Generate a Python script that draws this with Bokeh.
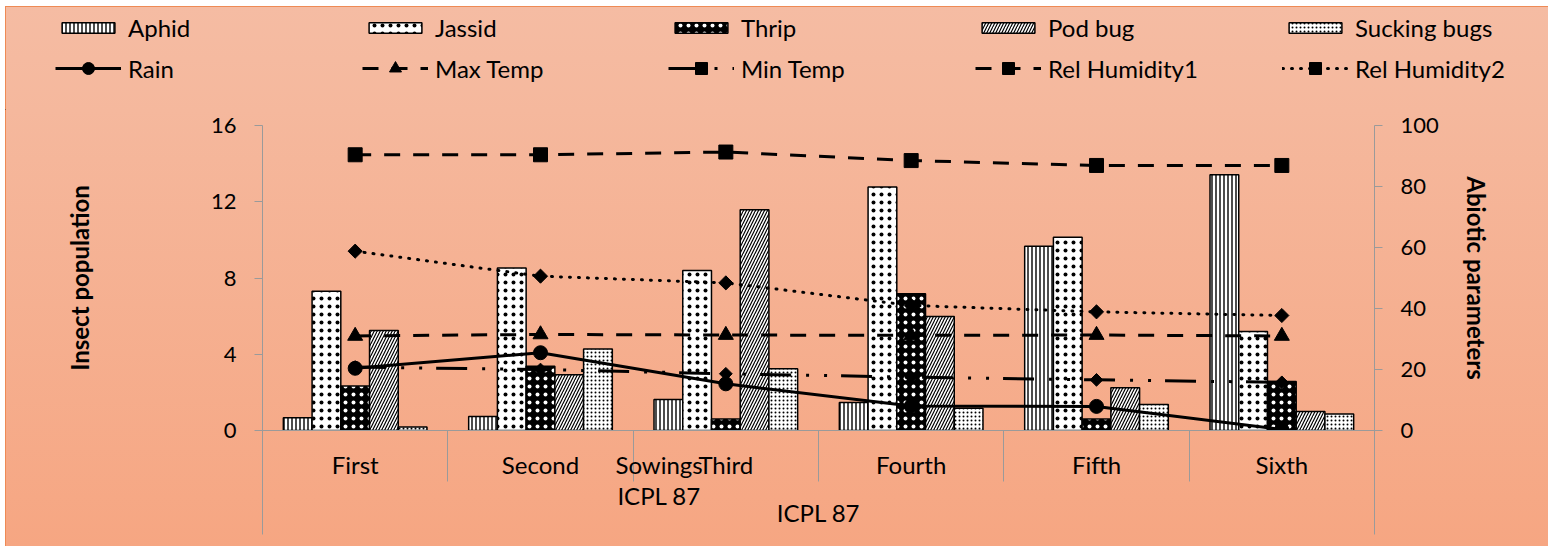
import math
from bokeh.plotting import figure
from bokeh.models import (Range1d, LinearAxis, FixedTicker, Legend, LegendItem,
                          InlineStyleSheet)
from bokeh.embed import file_html
from bokeh.resources import INLINE

# ---------------- data ----------------
sowings = ["First", "Second", "Third", "Fourth", "Fifth", "Sixth"]
group_label = "ICPL 87"
x_title = "Sowings\nICPL 87"

aphid = [0.67, 0.73, 1.63, 1.47, 9.67, 13.41]
jassid = [7.31, 8.53, 8.39, 12.77, 10.14, 5.19]
thrip = [2.34, 3.37, 0.60, 7.17, 0.60, 2.57]
pod_bug = [5.25, 2.92, 11.58, 5.98, 2.24, 1.00]
sucking_bugs = [0.19, 4.27, 3.24, 1.17, 1.36, 0.87]

rain = [20.4, 25.5, 15.3, 8.0, 7.9, 0.3]
max_temp = [31.0, 31.5, 31.3, 31.2, 31.3, 31.0]
min_temp = [20.8, 20.0, 18.6, 17.5, 16.6, 15.8]
rel_humidity1 = [90.4, 90.4, 91.3, 88.5, 86.9, 86.9]
rel_humidity2 = [58.8, 50.6, 48.4, 41.0, 38.9, 37.7]

left_ticks = [0, 4, 8, 12, 16]
right_ticks = [0, 20, 40, 60, 80, 100]

# ---------------- style ----------------
FONT = "Lato"
FS = "22px"
FS_TEXT = "24px"
FS_TITLE = "24px"
GRAY = "#9A9A9A"
BAR_W = 0.155
X_TITLE_POS = 2.14   # where the source chart put its (misplaced) axis title

n = len(sowings)
centers = [i + 0.5 for i in range(n)]

bar_series = [
    ("Aphid", aphid, dict(fill_color="white", hatch_pattern="vertical_line",
                          hatch_color="black", hatch_scale=4, hatch_weight=1.4)),
    ("Jassid", jassid, dict(fill_color="white", hatch_pattern="dot",
                            hatch_color="black", hatch_scale=8, hatch_weight=0.5)),
    ("Thrip", thrip, dict(fill_color="black", hatch_pattern="dot",
                          hatch_color="white", hatch_scale=8, hatch_weight=0.5)),
    ("Pod bug", pod_bug, dict(fill_color="white", hatch_pattern="right_diagonal_line",
                              hatch_color="black", hatch_scale=6, hatch_weight=1.2)),
    ("Sucking bugs", sucking_bugs, dict(fill_color="white", hatch_pattern="dot",
                                        hatch_color="black", hatch_scale=4, hatch_weight=2)),
]
line_series = [
    ("Rain", rain, dict(line_dash="solid"), dict(marker="circle", size=14, angle=0)),
    ("Max Temp", max_temp, dict(line_dash="16 13"), dict(marker="triangle", size=15, angle=0)),
    ("Min Temp", min_temp, dict(line_dash="31 15 3 15 3 14"),
     dict(marker="square", size=9, angle=math.pi / 4)),
    ("Rel Humidity1", rel_humidity1, dict(line_dash="16 13"),
     dict(marker="square", size=14, angle=0)),
    ("Rel Humidity2", rel_humidity2, dict(line_dash="1 8", line_cap="round"),
     dict(marker="square", size=10, angle=math.pi / 4)),
]

common = dict(output_backend="svg", toolbar_location=None,
              x_axis_location=None, y_axis_location=None,
              background_fill_color=None, border_fill_color=None,
              outline_line_color=None)

# ---------------- main chart ----------------
css_main = InlineStyleSheet(css=""":host {
  margin-left: 5px;
  background: linear-gradient(to bottom, #F5B89D 0%, #F6A682 100%);
  box-shadow: inset 1px 0 0 #EE8A55;
}""")
p = figure(width=1543, height=436, x_range=Range1d(0, n), y_range=Range1d(0, 16),
           min_border_left=257, min_border_right=174, min_border_top=15,
           min_border_bottom=116, stylesheets=[css_main], **common)
p.grid.grid_line_color = None
p.extra_y_ranges = {"abiotic": Range1d(0, 100)}

for k, (name, vals, st) in enumerate(bar_series):
    xs = [c + (k - 2) * BAR_W for c in centers]
    p.vbar(x=xs, top=vals, bottom=0, width=BAR_W, line_color="black",
           line_width=1.5, **st)

for name, vals, lst, mst in line_series:
    p.line(centers, vals, y_range_name="abiotic", line_color="black",
           line_width=3, **lst)
    p.scatter(centers, vals, y_range_name="abiotic", fill_color="black",
              line_color="black", **mst)

def style_axis(ax):
    ax.axis_line_color = GRAY
    ax.major_tick_line_color = GRAY
    ax.minor_tick_line_color = GRAY
    ax.major_label_text_font = FONT
    ax.major_label_text_font_size = FS
    ax.major_label_text_color = "black"
    ax.axis_label_text_font = FONT
    ax.axis_label_text_font_size = FS_TEXT
    ax.axis_label_text_color = "black"
    ax.axis_label_text_font_style = "normal"

yl = LinearAxis(ticker=FixedTicker(ticks=left_ticks), axis_label="Insect population")
style_axis(yl)
yl.major_tick_out = 8
yl.major_tick_in = 0
yl.major_label_standoff = 18
yl.axis_label_standoff = 114
yl.axis_label_text_font_style = "bold"
yl.axis_label_text_font_size = FS_TITLE
p.add_layout(yl, "left")

yr = LinearAxis(y_range_name="abiotic", ticker=FixedTicker(ticks=right_ticks),
                axis_label="Abiotic parameters")
style_axis(yr)
yr.major_tick_out = 8
yr.major_tick_in = 0
yr.major_label_standoff = 18
yr.axis_label_standoff = 20
yr.axis_label_text_font_style = "bold"
yr.axis_label_text_font_size = FS_TITLE
p.add_layout(yr, "right")

overrides = {c: s for c, s in zip(centers, sowings)}
overrides[X_TITLE_POS] = x_title
xa = LinearAxis(ticker=FixedTicker(ticks=centers + [X_TITLE_POS],
                                   minor_ticks=list(range(n + 1))),
                major_label_overrides=overrides, axis_label=group_label)
style_axis(xa)
xa.major_label_text_font_size = FS_TEXT
xa.major_tick_out = 0
xa.major_tick_in = 0
xa.minor_tick_out = 51
xa.minor_tick_in = 0
xa.major_label_standoff = -32
xa.major_label_text_line_height = 1.1
xa.axis_label_standoff = -15
p.add_layout(xa, "below")

xb = LinearAxis(ticker=FixedTicker(ticks=[], minor_ticks=[0, n]))
style_axis(xb)
xb.axis_line_color = None
xb.major_tick_out = 0
xb.major_tick_in = 0
xb.minor_tick_out = 4
xb.minor_tick_in = 120
p.add_layout(xb, "below")

# ---------------- legend strip (legend swatches share the chart's glyph styles) ----------------
css_leg = InlineStyleSheet(css=""":host {
  margin-left: 5px; margin-top: 6px;
  background: linear-gradient(to bottom, #F5BCA3 0%, #F5B89D 100%);
  box-shadow: inset 1px 1px 0 #EE8A55;
}""")
lf = figure(width=1543, height=104, x_range=Range1d(0, 1), y_range=Range1d(0, 1),
            min_border=0, stylesheets=[css_leg], **common)
lf.grid.grid_line_color = None

leg_style = dict(orientation="vertical", glyph_width=66, label_standoff=7,
                 padding=0, margin=0, spacing=0, label_height=30,
                 border_line_color=None, background_fill_alpha=0,
                 label_text_font=FONT, label_text_font_size=FS_TEXT,
                 label_text_color="black")
cols_x = [50, 357, 663, 970, 1277]
for i in range(5):
    bname, bvals, bst = bar_series[i]
    lname, lvals, lst, mst = line_series[i]
    rb = lf.vbar(x=[-9], top=[-9], bottom=-10, width=0.1, line_color="black",
                 line_width=1.5, **bst)
    rl = lf.line(x=[-9, -8], y=[-9, -9], line_color="black", line_width=3, **lst)
    rm = lf.scatter(x=[-9], y=[-9], fill_color="black", line_color="black", **mst)
    lf.add_layout(Legend(items=[LegendItem(label=bname, renderers=[rb], index=0)],
                         location=(cols_x[i], 68), glyph_height=13, **leg_style))
    lf.add_layout(Legend(items=[LegendItem(label=lname, renderers=[rl, rm], index=0)],
                         location=(cols_x[i], 27), glyph_height=30, **leg_style))

open("out.html", "w").write(file_html([lf, p], INLINE))
